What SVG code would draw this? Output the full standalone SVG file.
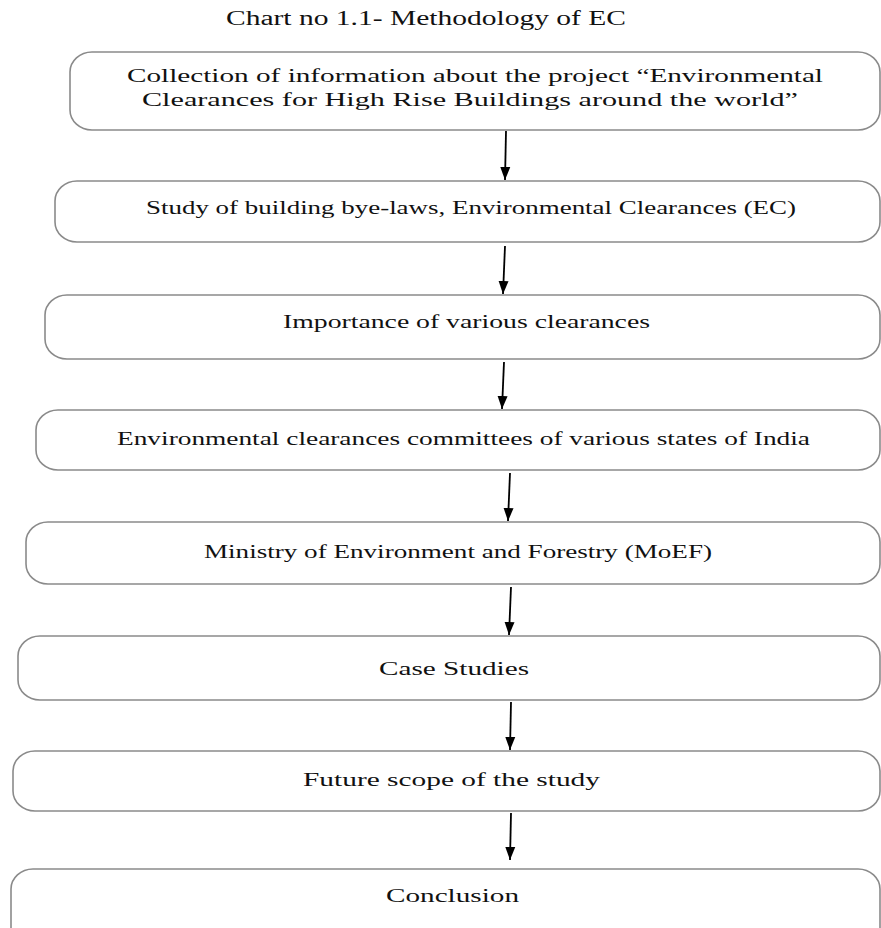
<svg xmlns="http://www.w3.org/2000/svg" width="881" height="928" viewBox="0 0 881 928">
<style>
  .box { fill: #ffffff; stroke: #8a8a8a; stroke-width: 1.6; }
  .lbl { font-family: "Liberation Serif", "Times New Roman", serif; font-size: 19px; fill: #111111; text-anchor: start; }
  .title { font-family: "Liberation Serif", "Times New Roman", serif; font-size: 20px; fill: #111111; }
  .conn { stroke: #000000; stroke-width: 1.8; fill: none; marker-end: url(#ah); }
</style>
<defs>
  <marker id="ah" markerUnits="userSpaceOnUse" markerWidth="13" markerHeight="13" viewBox="0 0 13 13" refX="13" refY="6.5" orient="auto">
    <path d="M0,1.5 L13,6.5 L0,11.5 Z" fill="#000000"/>
  </marker>
</defs>
<rect width="881" height="928" fill="#ffffff"/>
<text class="title" x="226" y="25" textLength="400" lengthAdjust="spacingAndGlyphs">Chart no 1.1- Methodology of EC</text>

<g id="n1">
  <rect class="box" x="70" y="52" width="810" height="78" rx="22" ry="20"/>
  <text class="lbl" x="127" y="82" textLength="696" lengthAdjust="spacingAndGlyphs">Collection of information about the project “Environmental</text>
  <text class="lbl" x="142" y="106" textLength="656" lengthAdjust="spacingAndGlyphs">Clearances for High Rise Buildings around the world”</text>
</g>
<g id="n2">
  <rect class="box" x="55" y="181" width="825" height="61" rx="22" ry="20"/>
  <text class="lbl" x="146" y="214" textLength="650" lengthAdjust="spacingAndGlyphs">Study of building bye-laws, Environmental Clearances (EC)</text>
</g>
<g id="n3">
  <rect class="box" x="45" y="295" width="835" height="64" rx="22" ry="20"/>
  <text class="lbl" x="283" y="328" textLength="367" lengthAdjust="spacingAndGlyphs">Importance of various clearances</text>
</g>
<g id="n4">
  <rect class="box" x="36" y="410" width="844" height="60" rx="22" ry="20"/>
  <text class="lbl" x="117" y="445" textLength="693" lengthAdjust="spacingAndGlyphs">Environmental clearances committees of various states of India</text>
</g>
<g id="n5">
  <rect class="box" x="26" y="522" width="854" height="62" rx="22" ry="20"/>
  <text class="lbl" x="204" y="558" textLength="508" lengthAdjust="spacingAndGlyphs">Ministry of Environment and Forestry (MoEF)</text>
</g>
<g id="n6">
  <rect class="box" x="18" y="636" width="862" height="64" rx="22" ry="20"/>
  <text class="lbl" x="379" y="675" textLength="150" lengthAdjust="spacingAndGlyphs">Case Studies</text>
</g>
<g id="n7">
  <rect class="box" x="13" y="751" width="867" height="60" rx="22" ry="20"/>
  <text class="lbl" x="303" y="786" textLength="297" lengthAdjust="spacingAndGlyphs">Future scope of the study</text>
</g>
<g id="n8">
  <rect class="box" x="11" y="869" width="869" height="90" rx="22" ry="20"/>
  <text class="lbl" x="386" y="902" textLength="133" lengthAdjust="spacingAndGlyphs">Conclusion</text>
</g>

<g id="connectors">
  <line class="conn" x1="506" y1="131" x2="505" y2="180"/>
  <line class="conn" x1="505" y1="246" x2="503" y2="294"/>
  <line class="conn" x1="504" y1="362" x2="502" y2="409"/>
  <line class="conn" x1="510" y1="473" x2="508" y2="521"/>
  <line class="conn" x1="511" y1="587" x2="509" y2="635"/>
  <line class="conn" x1="511" y1="702" x2="510" y2="750"/>
  <line class="conn" x1="511" y1="813" x2="510" y2="860"/>
</g>
</svg>
